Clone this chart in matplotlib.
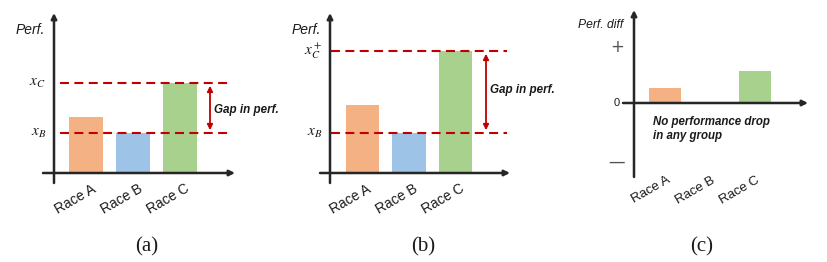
import matplotlib
matplotlib.use("Agg")
import matplotlib.pyplot as plt
from matplotlib.transforms import ScaledTranslation

plt.rcParams['font.family'] = ['Liberation Sans', 'DejaVu Sans']
plt.rcParams['mathtext.fontset'] = 'stix'

# ---- data ----
races = ["Race A", "Race B", "Race C"]
perf_a = [0.56, 0.40, 0.90]
perf_b = [0.68, 0.40, 1.22]
diff_c = [0.15, 0.0, 0.32]
bar_colors = ["#F4B183", "#9DC3E6", "#A9D18E"]
ylab_a = [r"$x_B$", r"$x_C$"]
ylab_b = [r"$x_B$", r"$x_C^+$"]
ylab_c = ["+", "0", "—"]
ylab_c_vals = [0.56, 0.0, -0.59]
panel_labels = ["(a)", "(b)", "(c)"]

W, H = 828, 262
fig = plt.figure(figsize=(W / 100, H / 100), dpi=100)

RED = "#C00000"
AX = "#262626"


def make_ax(left, right, top, bottom, x0, xs, y0, ys):
    """axes covering pixel rect; bar centre 0 at px x0, xs px/unit; y=0 at px y0, ys px/unit"""
    ax = fig.add_axes([left / W, 1 - bottom / H, (right - left) / W, (bottom - top) / H])
    ax.set_xlim((left - x0) / xs, (right - x0) / xs)
    ax.set_ylim(-(bottom - y0) / ys, (y0 - top) / ys)
    for s in ax.spines.values():
        s.set_visible(False)
    ax.set_yticks([])
    ax.patch.set_alpha(0)
    return ax


def px2x(px, x0, xs):
    return (px - x0) / xs


def px2y(py, y0, ys):
    return (y0 - py) / ys


def axes_arrows(ax, xa):
    xl = ax.get_xlim()
    yl = ax.get_ylim()
    ax.annotate("", xy=(xa, yl[1]), xytext=(xa, yl[0]),
                arrowprops=dict(arrowstyle="-|>", color=AX, lw=1.8, mutation_scale=8,
                                shrinkA=0, shrinkB=0), annotation_clip=False)
    ax.annotate("", xy=(xl[1], 0), xytext=(xl[0], 0),
                arrowprops=dict(arrowstyle="-|>", color=AX, lw=1.8, mutation_scale=8,
                                shrinkA=0, shrinkB=0), annotation_clip=False)


def race_ticks(ax, dx_px=6, rot=30, fs=10, pad=-1):
    ax.set_xticks(range(len(races)))
    ax.set_xticklabels(races, rotation=rot, ha="right", va="top", rotation_mode="anchor",
                       fontsize=fs, color="#1a1a1a")
    ax.tick_params(axis="x", length=0, pad=pad)
    for lbl in ax.get_xticklabels():
        lbl.set_transform(lbl.get_transform() + ScaledTranslation(dx_px / 100, 0, fig.dpi_scale_trans))


# ---------- panel (a) ----------
x0, xs, y0, ys = 86, 47, 173, 100
ax = make_ax(43, 235, 13, 183, x0, xs, y0, ys)
ax.bar(range(3), perf_a, width=0.72, color=bar_colors, zorder=2)
axes_arrows(ax, px2x(54, x0, xs))
for v in [perf_a[1], perf_a[2]]:
    ax.plot([px2x(60, x0, xs), px2x(232, x0, xs)], [v, v], color=RED, lw=1.5,
            ls=(0, (4.3, 2.6)), zorder=3)
for v, t in zip([perf_a[1], perf_a[2]], ylab_a):
    ax.text(px2x(46, x0, xs), v, t, ha="right", va="center", fontsize=11, color="#1a1a1a")
ax.annotate("", xy=(px2x(210, x0, xs), perf_a[2]), xytext=(px2x(210, x0, xs), perf_a[1]),
            arrowprops=dict(arrowstyle="<|-|>", color=RED, lw=1.3, mutation_scale=8,
                            shrinkA=2, shrinkB=2))
ax.text(px2x(214, x0, xs), px2y(110, y0, ys), "Gap in perf.", fontsize=8.4,
        fontweight="bold", fontstyle="italic", ha="left", va="center", color="#1a1a1a")
ax.text(px2x(16, x0, xs), px2y(30, y0, ys), "Perf.", fontsize=10, fontstyle="italic",
        ha="left", va="center", color="#1a1a1a")
race_ticks(ax, dx_px=5)

# ---------- panel (b) ----------
x0, xs, y0, ys = 362.5, 46.5, 173, 100
ax = make_ax(320, 510, 13, 183, x0, xs, y0, ys)
ax.bar(range(3), perf_b, width=0.72, color=bar_colors, zorder=2)
axes_arrows(ax, px2x(330, x0, xs))
for v in [perf_b[1], perf_b[2]]:
    ax.plot([px2x(331, x0, xs), px2x(507, x0, xs)], [v, v], color=RED, lw=1.5,
            ls=(0, (4.3, 2.6)), zorder=3)
for v, t in zip([perf_b[1], perf_b[2]], ylab_b):
    ax.text(px2x(322, x0, xs), v, t, ha="right", va="center", fontsize=11, color="#1a1a1a")
ax.annotate("", xy=(px2x(486, x0, xs), perf_b[2]), xytext=(px2x(486, x0, xs), perf_b[1]),
            arrowprops=dict(arrowstyle="<|-|>", color=RED, lw=1.3, mutation_scale=8,
                            shrinkA=2, shrinkB=2))
ax.text(px2x(490, x0, xs), px2y(90, y0, ys), "Gap in perf.", fontsize=8.4,
        fontweight="bold", fontstyle="italic", ha="left", va="center", color="#1a1a1a")
ax.text(px2x(292, x0, xs), px2y(30, y0, ys), "Perf.", fontsize=10, fontstyle="italic",
        ha="left", va="center", color="#1a1a1a")
race_ticks(ax, dx_px=4)

# ---------- panel (c) ----------
x0, xs, y0, ys = 665, 45, 103, 100
ax = make_ax(623, 808, 10, 177, x0, xs, y0, ys)
ax.bar(range(3), diff_c, width=0.71, color=bar_colors, zorder=2)
axes_arrows(ax, px2x(634, x0, xs))
for v, t in zip(ylab_c_vals, ylab_c):
    ax.text(px2x(617, x0, xs), v, t, ha="center", va="center",
            fontsize=8 if t == "0" else 12, color="#555555" if t != "0" else "#1a1a1a",
            family=["DejaVu Sans"] if t != "0" else None)
ax.text(px2x(578, x0, xs), px2y(25, y0, ys), "Perf. diff", fontsize=8.7, fontstyle="italic",
        ha="left", va="center", color="#1a1a1a")
ax.text(px2x(653, x0, xs), px2y(116, y0, ys), "No performance drop\nin any group",
        fontsize=8.3, fontweight="bold", fontstyle="italic", ha="left", va="top",
        linespacing=1.25, color="#1a1a1a")
race_ticks(ax, dx_px=1, fs=9.5, pad=-2)

# ---------- panel captions ----------
for cx, t in zip([147, 423, 702], panel_labels):
    fig.text(cx / W, 1 - 247 / H, t, ha="center", va="center", fontsize=15,
             family=["Liberation Serif"], color="#1a1a1a")

fig.savefig("out.png", dpi=100)
